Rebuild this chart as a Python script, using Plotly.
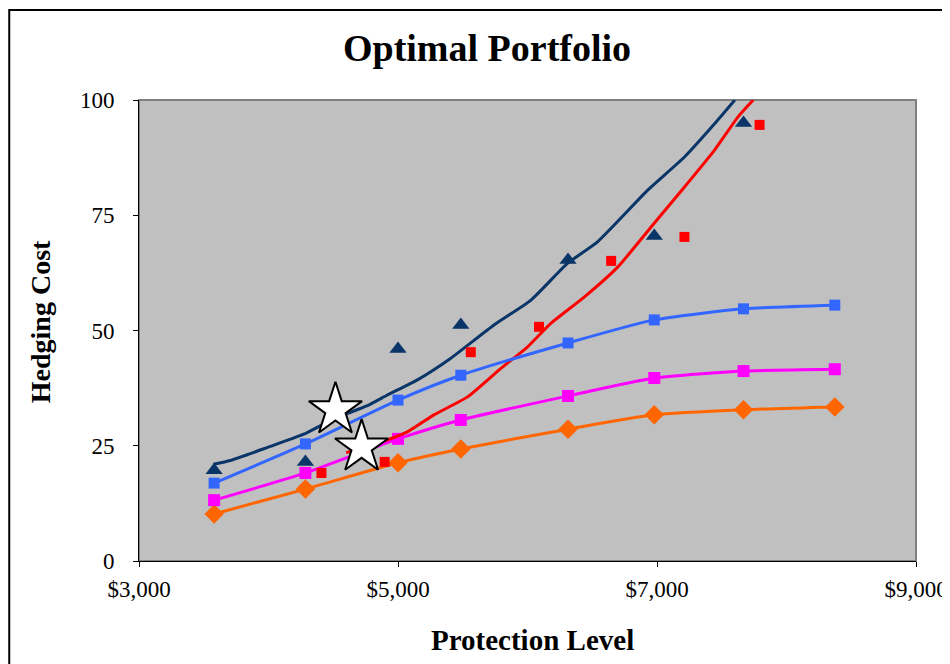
import plotly.graph_objects as go

# ---- data ----
x_marks = [3580, 4285, 5000, 5485, 6313, 6979, 7668, 8373]
orange_vals = [10.2, 15.6, 21.3, 24.3, 28.6, 31.7, 32.8, 33.4]
magenta_vals = [13.2, 19.1, 26.5, 30.6, 35.8, 39.7, 41.2, 41.6]
blue_vals = [16.9, 25.4, 34.9, 40.3, 47.3, 52.3, 54.7, 55.5]

tri_x = [3580, 4285, 5000, 5485, 6313, 6979, 7668]
tri_y = [19.7, 21.5, 46.0, 51.2, 65.3, 70.5, 95.0]

red_sq_x = [4409, 4897, 5562, 6089, 6646, 7212, 7792]
red_sq_y = [19.1, 21.5, 45.3, 50.8, 65.1, 70.3, 94.6]

navy_line_x = [3575, 3705, 3989, 4272, 4502, 4763, 4918, 5150, 5408, 5741, 6027, 6311, 6543, 6930, 7214, 7446, 7601]
navy_line_y = [21.0, 21.8, 24.6, 27.5, 30.8, 33.7, 36.0, 39.3, 44.0, 51.2, 56.6, 64.6, 69.3, 80.5, 87.7, 94.9, 100.0]

red_line_x = [4600, 4840, 5072, 5278, 5537, 5795, 5988, 6182, 6440, 6698, 6956, 7214, 7446, 7627, 7743]
red_line_y = [23.5, 25.5, 28.0, 31.7, 35.6, 41.8, 46.1, 51.6, 57.3, 63.8, 72.5, 81.2, 89.2, 96.4, 100.0]

star_x = [4517, 4719]
star_y = [32.8, 24.7]

x_ticks = [3000, 5000, 7000, 9000]
x_tick_labels = ["$3,000", "$5,000", "$7,000", "$9,000"]
y_ticks = [0, 25, 50, 75, 100]

NAVY = "#0A3568"
RED = "#FF0000"
BLUE = "#3366FF"
MAGENTA = "#FF00FF"
ORANGE = "#FF6600"
FONT = "Liberation Serif"

fig = go.Figure()

fig.add_trace(go.Scatter(x=x_marks, y=orange_vals, mode="lines+markers",
                         line=dict(color=ORANGE, width=3, shape="spline", smoothing=0.6),
                         marker=dict(symbol="diamond", size=15, color=ORANGE)))
fig.add_trace(go.Scatter(x=x_marks, y=magenta_vals, mode="lines+markers",
                         line=dict(color=MAGENTA, width=3, shape="spline", smoothing=0.6),
                         marker=dict(symbol="square", size=12, color=MAGENTA)))
fig.add_trace(go.Scatter(x=red_line_x, y=red_line_y, mode="lines",
                         line=dict(color=RED, width=3, shape="spline", smoothing=0.5)))
fig.add_trace(go.Scatter(x=x_marks, y=blue_vals, mode="lines+markers",
                         line=dict(color=BLUE, width=3, shape="spline", smoothing=0.6),
                         marker=dict(symbol="square", size=11, color=BLUE)))
fig.add_trace(go.Scatter(x=navy_line_x, y=navy_line_y, mode="lines",
                         line=dict(color=NAVY, width=3, shape="spline", smoothing=0.5)))
fig.add_trace(go.Scatter(x=tri_x, y=tri_y, mode="markers",
                         marker=dict(symbol="triangle-up", size=15, color=NAVY)))
fig.add_trace(go.Scatter(x=red_sq_x, y=red_sq_y, mode="markers",
                         marker=dict(symbol="square", size=10, color=RED)))
fig.add_trace(go.Scatter(x=star_x, y=star_y, mode="markers",
                         marker=dict(symbol="star", size=40, color="white",
                                     line=dict(color="black", width=2))))

fig.update_layout(
    width=942, height=656,
    margin=dict(l=131, r=34, t=92, b=103),
    paper_bgcolor="white",
    plot_bgcolor="#C0C0C0",
    showlegend=False,
    font=dict(family=FONT, color="black", size=23),
    title=dict(text="<b>Optimal Portfolio</b>", x=0.5085, xanchor="center",
               y=0.939, yanchor="middle", font=dict(family=FONT, size=38, color="black")),
    xaxis=dict(range=[3000, 9000], tickvals=x_ticks, ticktext=x_tick_labels,
               automargin=False,
               showgrid=False, zeroline=False, showline=True, linecolor="black", linewidth=1,
               ticks="outside", ticklen=5, tickcolor="black",
               tickfont=dict(family=FONT, size=23), ticklabelstandoff=2),
    yaxis=dict(range=[0, 100], tickvals=y_ticks, automargin=False,
               showgrid=False, zeroline=False, showline=True, linecolor="black", linewidth=1,
               ticks="outside", ticklen=5, tickcolor="black",
               tickfont=dict(family=FONT, size=23), ticklabelstandoff=14),
    annotations=[
        dict(text="<b>Protection Level</b>", xref="paper", yref="paper", x=0.5058, y=-0.171,
             xanchor="center", yanchor="middle", showarrow=False,
             font=dict(family=FONT, size=29, color="black")),
        dict(text="<b>Hedging Cost</b>", xref="paper", yref="paper", x=-0.1274, y=0.518,
             xanchor="center", yanchor="middle", showarrow=False, textangle=-90,
             font=dict(family=FONT, size=28, color="black")),
    ],
    shapes=[
        dict(type="rect", xref="paper", yref="paper", x0=0, y0=0, x1=1, y1=1,
             line=dict(color="#808080", width=2), layer="below"),
        dict(type="rect", xref="paper", yref="paper", x0=-0.167, y0=-0.3, x1=1.2, y1=1.195,
             line=dict(color="black", width=2), fillcolor="rgba(0,0,0,0)", layer="below"),
    ],
)

fig.write_html("out.html")
